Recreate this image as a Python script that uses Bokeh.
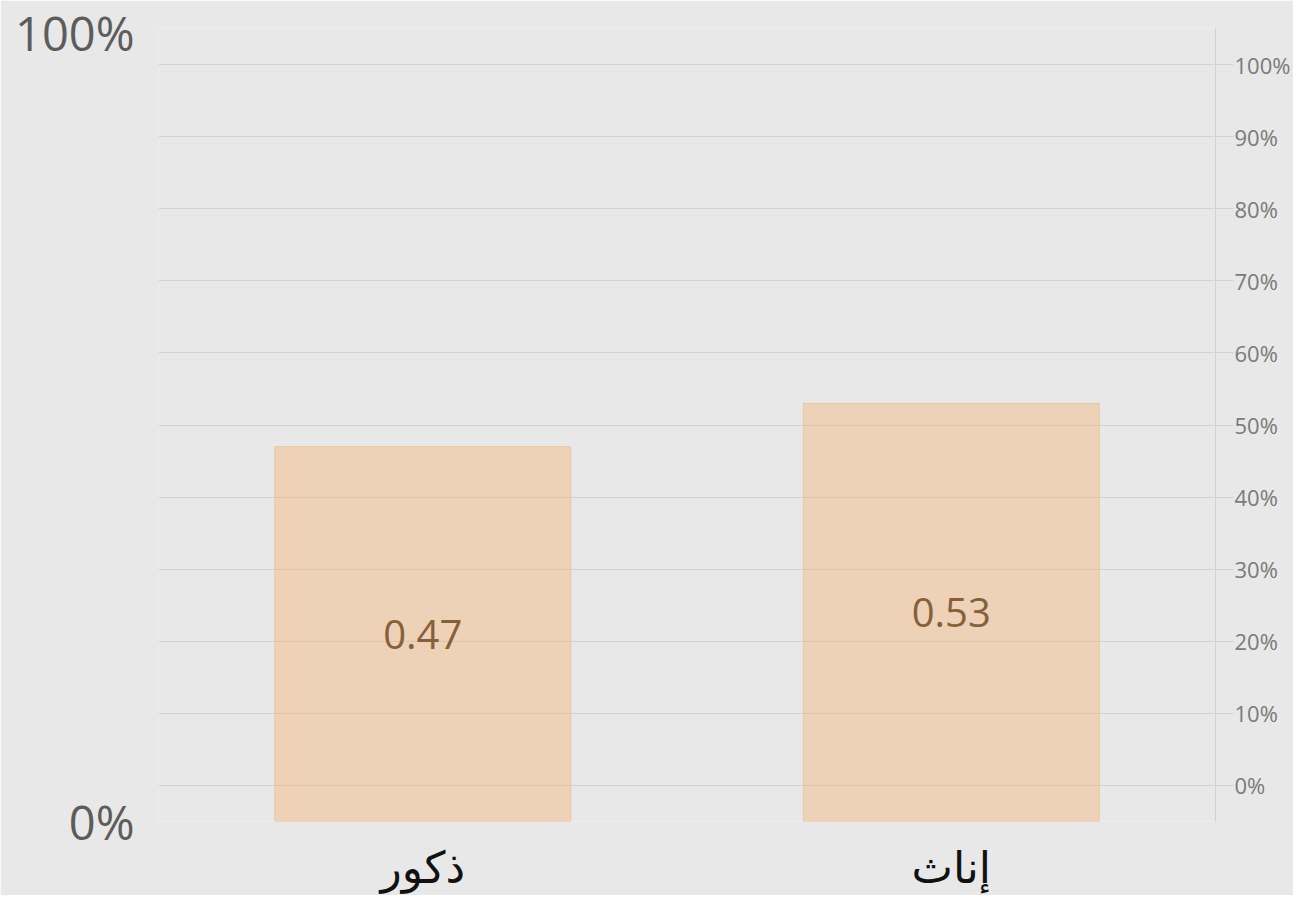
from bokeh.plotting import figure
from bokeh.models import Range1d, LinearAxis, FixedTicker, NumeralTickFormatter, ColumnDataSource
from bokeh.embed import file_html
from bokeh.resources import INLINE
from bokeh.core.properties import value

# ---- data ----
categories = ["ذكور", "إناث"]
shares = [0.47, 0.53]
value_labels = ["0.47", "0.53"]
right_ticks = [0.0, 0.1, 0.2, 0.3, 0.4, 0.5, 0.6, 0.7, 0.8, 0.9, 1.0]
left_ticks = [0, 1]
left_tick_labels = ["0%", "100%"]

BG = "#e8e8e8"
GRID = "#d2d2d2"
y_start, y_end = -0.05, 1.05

p = figure(
    x_range=categories,
    y_range=Range1d(y_start, y_end),
    width=1293, height=895,
    output_backend="svg", toolbar_location=None,
    y_axis_location="right",
    min_border_left=158, min_border_right=76,
    min_border_top=28, min_border_bottom=73,
    background_fill_color=BG, border_fill_color=BG,
    outline_line_color=None,
)

src = ColumnDataSource(dict(
    x=categories,
    top=shares,
    ymid=[(y_start + v) / 2 for v in shares],
    label=value_labels,
))

p.vbar(x="x", top="top", bottom=y_start, width=0.56, source=src,
       fill_color="#f5ae66", fill_alpha=0.38,
       line_color="#e9bf8c", line_alpha=0.7, line_width=1)

p.text(x="x", y="ymid", text="label", source=src,
       text_align="center", text_baseline="middle",
       text_font=value("Open Sans"), text_font_size="40px",
       text_color="#86603a")

# right axis (default y axis)
ra = p.yaxis[0]
ra.ticker = FixedTicker(ticks=right_ticks)
ra.formatter = NumeralTickFormatter(format="0%")
ra.axis_line_color = GRID
ra.major_tick_line_color = GRID
ra.major_tick_in = 0
ra.major_tick_out = 18
ra.minor_tick_line_color = None
ra.major_label_standoff = 1
ra.major_label_text_font = "Open Sans"
ra.major_label_text_font_size = "22px"
ra.major_label_text_color = "#7a7a7a"

p.ygrid.ticker = FixedTicker(ticks=right_ticks)
p.ygrid.grid_line_color = GRID
p.ygrid.grid_line_width = 1
p.xgrid.visible = False

# left axis 0%..100% spanning the frame
p.extra_y_ranges = {"frame": Range1d(0, 1)}
la = LinearAxis(y_range_name="frame")
la.ticker = FixedTicker(ticks=left_ticks)
la.major_label_overrides = {t: s for t, s in zip(left_ticks, left_tick_labels)}
la.axis_line_color = None
la.major_tick_line_color = None
la.minor_tick_line_color = None
la.major_label_standoff = 18
la.major_label_text_font = "Open Sans"
la.major_label_text_font_size = "47px"
la.major_label_text_color = "#5c5c5c"
p.add_layout(la, "left")

# category axis
xa = p.xaxis[0]
xa.axis_line_color = None
xa.major_tick_line_color = None
xa.minor_tick_line_color = None
xa.major_label_standoff = 14
xa.major_label_text_font = "DejaVu Sans"
xa.major_label_text_font_size = "44px"
xa.major_label_text_color = "#111111"

open("out.html", "w").write(file_html(p, INLINE))
